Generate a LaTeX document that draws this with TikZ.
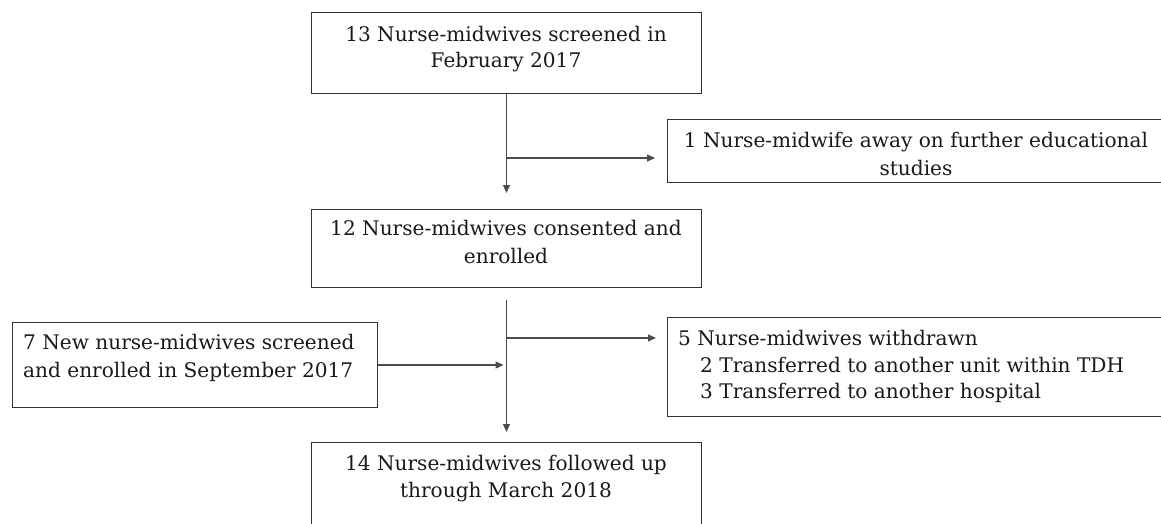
\documentclass[tikz,border=0pt]{standalone}
\usepackage{fontspec}
\setmainfont{DejaVu Serif}
\usetikzlibrary{arrows.meta}
\begin{document}
\begin{tikzpicture}[x=1pt,y=-1pt,
  box/.style={draw=black!80,line width=1pt,anchor=north west,inner sep=0pt},
  txt/.style={anchor=base,inner sep=0pt,font=\fontsize{20.1}{27}\selectfont,text=black!90},
  txtl/.style={txt,anchor=base west},
  conn/.style={draw=black!70,line width=1.2pt},
  arr/.style={conn,-{Triangle[length=8pt,width=7pt]}}]
\clip (0,0) rectangle (1161,524);
% boxes
\node[box,minimum width=390pt,minimum height=81pt] (b1) at (311,12) {};
\node[box,minimum width=498pt,minimum height=63pt] (b2) at (667,119) {};
\node[box,minimum width=390pt,minimum height=78pt] (b3) at (311,209) {};
\node[box,minimum width=365pt,minimum height=85pt] (b4) at (12,322) {};
\node[box,minimum width=498pt,minimum height=99pt] (b5) at (667,317) {};
\node[box,minimum width=390pt,minimum height=100pt] (b6) at (311,442) {};
% texts
\node[txt] (t1a) at (506,42) {13 Nurse-midwives screened in};
\node[txt] (t1b) at (506,68) {February 2017};
\node[txt] (t2a) at (916,147) {1 Nurse-midwife away on further educational};
\node[txt] (t2b) at (916,175) {studies};
\node[txt] (t3a) at (506,235) {12 Nurse-midwives consented and};
\node[txt] (t3b) at (506,263) {enrolled};
\node[txtl] (t4a) at (23,349) {7 New nurse-midwives screened};
\node[txtl] (t4b) at (23,377) {and enrolled in September 2017};
\node[txtl] (t5a) at (678,345) {5 Nurse-midwives withdrawn};
\node[txtl] (t5b) at (700,372) {2 Transferred to another unit within TDH};
\node[txtl] (t5c) at (700,398) {3 Transferred to another hospital};
\node[txt] (t6a) at (506,470) {14 Nurse-midwives followed up};
\node[txt] (t6b) at (506,497) {through March 2018};
% connectors
\coordinate (y1) at (0,158);
\coordinate (y2) at (0,338);
\draw[arr,shorten >=16pt] (b1.south) -- (b3.north);
\draw[arr,shorten >=12pt] (b1.south |- y1) -- (b2.west |- y1);
\draw[arr,shorten <=12pt,shorten >=10pt] (b3.south) -- (b6.north);
\draw[arr,shorten >=11pt] (b3.south |- y2) -- (b5.west |- y2);
\draw[arr,shorten >=3pt] (b4.east) -- (b3.south |- b4.east);
\end{tikzpicture}
\end{document}
